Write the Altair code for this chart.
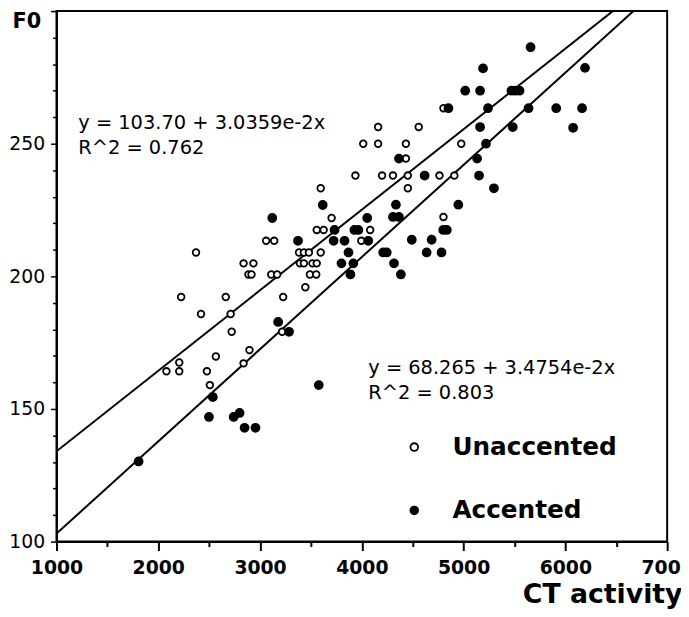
import altair as alt
import pandas as pd

# ---- data ----
unacc_x = [2080, 2206, 2206, 2225, 2371, 2420, 2478, 2507, 2566, 2663, 2711, 2721,
           2838, 2838, 2886, 2916, 2935, 2896, 3060, 3139, 3110, 3168, 3227, 3217,
           3383, 3431, 3480, 3596, 3392, 3431, 3515, 3557, 3490, 3552, 3445, 3557,
           3625, 3596, 3703, 3937, 3995, 4082, 4014, 4160, 4160, 4199, 4306, 4433,
           4433, 4452, 4452, 4559, 4763, 4802, 4802, 4909, 4977]
unacc_y = [164.2, 164.2, 167.5, 192.2, 209.0, 185.8, 164.2, 159.0, 169.8, 192.2, 185.8, 179.1,
           204.9, 167.2, 200.7, 200.7, 204.9, 172.2, 213.4, 213.4, 200.7, 200.7, 192.2, 179.1,
           209.0, 209.0, 209.0, 209.0, 204.9, 204.9, 204.9, 204.9, 200.7, 200.7, 195.9, 217.5,
           217.5, 233.2, 222.0, 238.0, 213.4, 217.5, 250.0, 250.0, 256.3, 238.0, 238.0, 250.0,
           244.4, 238.0, 233.2, 256.3, 238.0, 222.4, 263.4, 238.0, 250.0]

acc_x = [1807, 2498, 2536, 2741, 2799, 2848, 2955, 3120, 3178, 3285, 3373, 3577,
         3616, 3732, 3723, 3830, 3869, 3800, 3917, 3888, 3927, 3966, 4053, 4063,
         4210, 4245, 4316, 4306, 4365, 4335, 4365, 4384, 4491, 4617, 4637, 4686,
         4783, 4800, 4835, 4851, 4948, 5016, 5133, 5152, 5162, 5162, 5191, 5220,
         5240, 5298, 5470, 5510, 5550, 5483, 5638, 5658, 5910, 6076, 6164, 6193]
acc_y = [130.2, 147.0, 154.5, 147.0, 148.5, 142.9, 142.9, 222.0, 182.8, 179.1, 213.4, 159.0,
         226.9, 217.5, 213.4, 213.4, 209.0, 204.9, 204.9, 200.7, 217.5, 217.5, 222.0, 213.4,
         209.0, 209.0, 204.9, 222.4, 222.4, 227.0, 244.4, 200.7, 213.8, 238.0, 209.0, 213.8,
         209.0, 217.5, 217.5, 263.4, 227.0, 270.0, 244.4, 238.0, 256.3, 270.0, 278.4, 250.0,
         263.4, 233.2, 270.0, 270.0, 270.0, 256.3, 263.4, 286.4, 263.4, 256.0, 263.4, 278.6]

groups = ["Unaccented", "Accented"]
intercepts = [103.70, 68.265]
slopes = [3.0359e-2, 3.4754e-2]
eq_lines = ["y = 103.70 + 3.0359e-2x", "R^2 = 0.762",
            "y = 68.265 + 3.4754e-2x", "R^2 = 0.803"]
x_domain = [1000, 7000]
y_domain = [100, 300]
x_ticks = list(range(1000, 7001, 500))
y_ticks = list(range(100, 301, 10))

# ---- tables ----
unacc_df = pd.DataFrame({"CT": unacc_x, "F0": unacc_y, "group": ["Unaccented"] * len(unacc_x)})
acc_df = pd.DataFrame({"CT": acc_x, "F0": acc_y, "group": ["Accented"] * len(acc_x)})
fit = pd.DataFrame([
    {"group": g, "CT": x, "F0": b + m * x}
    for g, b, m in zip(groups, intercepts, slopes) for x in x_domain
])

FONT = "DejaVu Sans"
xs = alt.Scale(domain=x_domain, nice=False, zero=False)
ys = alt.Scale(domain=y_domain, nice=False, zero=False)

x_axis = alt.Axis(
    values=x_ticks, grid=False, title="CT activity",
    titleFont=FONT, titleFontSize=27, titleFontWeight="bold", titleColor="black",
    titleX=632, titleY=62, titleAlign="right", titleBaseline="alphabetic", titleAngle=0,
    labelExpr="datum.value % 1000 === 0 ? format(datum.value, 'd') : ''",
    labelFont=FONT, labelFontSize=19, labelFontWeight="bold", labelColor="black",
    labelPadding=8, labelFlush=False, labelOverlap=False, labelBound=False,
    tickSize={"condition": {"test": "datum.value % 1000 === 0", "value": 9}, "value": 5},
    tickColor="black", tickWidth=2, domainColor="black", domainWidth=2,
)
y_axis = alt.Axis(
    values=y_ticks, grid=False, title="F0",
    titleFont=FONT, titleFontSize=21, titleFontWeight="bold", titleColor="black",
    titleX=-45, titleY=17, titleAlign="left", titleBaseline="alphabetic", titleAngle=0,
    labelExpr="datum.value % 50 === 0 && datum.value < 300 ? datum.label : ''",
    labelFont=FONT, labelFontSize=19, labelColor="black",
    labelPadding=6, labelFlush=False, labelOverlap=False, labelBound=False,
    tickSize={"condition": {"test": "datum.value % 50 === 0", "value": 6}, "value": 4},
    tickColor="black", tickWidth=1.5, domainColor="black", domainWidth=2,
)

fill_scale = alt.Scale(domain=groups, range=["white", "black"])
legend = alt.Legend(
    title=None, orient="none", legendX=349, legendY=428,
    labelFont=FONT, labelFontSize=25, labelFontWeight="bold", labelLimit=400,
    labelColor="black", symbolType="circle", symbolSize=60,
    symbolStrokeColor="black", symbolStrokeWidth=1.8,
    labelOffset=26, rowPadding=38, padding=0,
)


def point_layer(df, size):
    return alt.Chart(df).mark_point(
        shape="circle", filled=True, stroke="black", strokeWidth=1.8,
        opacity=1, fillOpacity=1, size=size,
    ).encode(
        x=alt.X("CT:Q", scale=xs, axis=x_axis),
        y=alt.Y("F0:Q", scale=ys, axis=y_axis),
        fill=alt.Fill("group:N", scale=fill_scale, legend=legend),
    )


lines = alt.Chart(fit).mark_line(clip=True, color="black", strokeWidth=2).encode(
    x=alt.X("CT:Q", scale=xs, axis=x_axis),
    y=alt.Y("F0:Q", scale=ys, axis=y_axis),
    detail="group:N",
)

text_pos = [(22, 119), (22, 144), (315, 367), (315, 392)]
texts = []
for s, (px, py) in zip(eq_lines, text_pos):
    texts.append(
        alt.Chart(pd.DataFrame({"t": [s]})).mark_text(
            align="left", baseline="alphabetic", font=FONT, fontSize=19.6, color="black"
        ).encode(x=alt.value(px), y=alt.value(py), text="t:N")
    )

chart = alt.layer(lines, point_layer(unacc_df, 45), point_layer(acc_df, 65), *texts).properties(
    width=617, height=536,
    padding={"left": 49, "top": 0, "right": 14, "bottom": 68},
    autosize=alt.AutoSizeParams(type="none"),
    background="white",
).configure_view(stroke="black", strokeWidth=2).configure_axis(labelOverlap=False)

chart.save("out.html", embed_options={"renderer": "svg", "actions": False})
